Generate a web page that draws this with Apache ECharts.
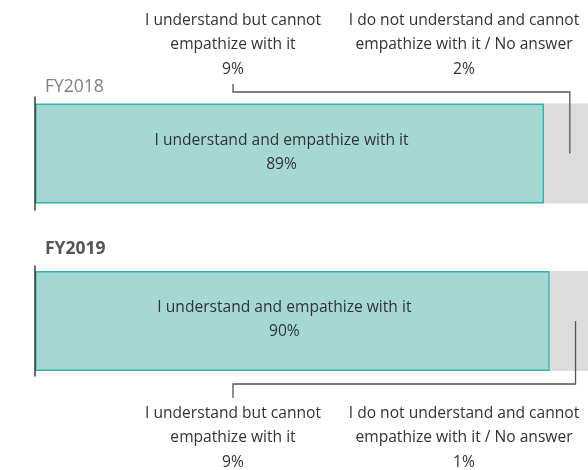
<!DOCTYPE html>
<html><head><meta charset="utf-8">
<script src="https://cdn.jsdelivr.net/npm/echarts@6/dist/echarts.min.js"></script>
<style>html,body{margin:0;padding:0;background:#fff;overflow:hidden}#c{width:607px;height:470px}</style>
</head><body><div id="c"></div>
<script>
const years = ['FY2018', 'FY2019'];
const empathize = [89, 90];
const cannotEmpathize = [9, 9];
const noAnswer = [2, 1];
const seriesNames = ['I understand and empathize with it', 'I understand but cannot\nempathize with it', 'I do not understand and cannot\nempathize with it / No answer'];

const FONT = '"Open Sans", sans-serif';
const chart = echarts.init(document.getElementById('c'));

const gridTops = [97, 266];
const gridHeights = [113, 110];
const grids = years.map((y, i) => ({left: 35, right: 0, top: gridTops[i], height: gridHeights[i]}));
const xAxes = years.map((y, i) => ({type: 'value', gridIndex: i, min: 0, max: 100, show: false}));
const yAxes = years.map((y, i) => ({type: 'category', gridIndex: i, data: [y], z: 10,
  axisLine: {show: true, lineStyle: {color: '#3a3a3a', width: 1.5}}, axisTick: {show: false}, axisLabel: {show: false}}));

const series = [];
const labelAnchor = [
  {x: 233, y: 84, turnY: 92},
  {x: 233, y: 398, turnY: 384}
];
years.forEach((y, i) => {
  series.push({
    type: 'bar', stack: 's' + i, xAxisIndex: i, yAxisIndex: i, barWidth: 100, name: seriesNames[0],
    data: [empathize[i]],
    itemStyle: {color: '#a5d8d3', borderColor: '#2bb5ab', borderWidth: 1.5},
    label: {show: true, position: 'inside', offset: [-8, -1], formatter: p => seriesNames[0] + '\n' + p.value + '%',
      color: '#333', fontSize: 15.6, lineHeight: 24, fontFamily: FONT}
  });
  series.push({
    type: 'bar', stack: 's' + i, xAxisIndex: i, yAxisIndex: i, barWidth: 100,
    data: [cannotEmpathize[i]], itemStyle: {color: '#dcdcdc'}
  });
  series.push({
    type: 'bar', stack: 's' + i, xAxisIndex: i, yAxisIndex: i, barWidth: 100,
    data: [noAnswer[i]], itemStyle: {color: '#dcdcdc'}
  });
  const a = labelAnchor[i];
  series.push({
    type: 'custom', xAxisIndex: i, yAxisIndex: i, clip: false, z: 20,
    data: [[empathize[i] + cannotEmpathize[i] / 2, 0]],
    renderItem: (params, api) => {
      const p = api.coord([api.value(0), api.value(1)]);
      return {type: 'polyline', shape: {points: [[a.x, a.y], [a.x, a.turnY], [p[0], a.turnY], [p[0], p[1]]]},
        style: {stroke: '#555', lineWidth: 1.3, fill: null}};
    }
  });
});

const txt = (x, y, text, opts) => Object.assign({type: 'text', x: x, y: y,
  style: Object.assign({text: text, fill: '#333', font: '15.6px ' + FONT, textAlign: 'center', textVerticalAlign: 'top', lineHeight: 24.5}, opts || {})});

const graphic = [
  txt(233, 8, seriesNames[1] + '\n' + cannotEmpathize[0] + '%'),
  txt(464, 8, seriesNames[2] + '\n' + noAnswer[0] + '%'),
  txt(233, 401, seriesNames[1] + '\n' + cannotEmpathize[1] + '%'),
  txt(464, 401, seriesNames[2] + '\n' + noAnswer[1] + '%'),
  txt(45, 75, years[0], {textAlign: 'left', fill: '#7f7f7f', font: '17.5px ' + FONT}),
  txt(45, 237, years[1], {textAlign: 'left', fill: '#555', font: 'bold 17.5px ' + FONT})
];

chart.setOption({animation: false, grid: grids, xAxis: xAxes, yAxis: yAxes, series: series, graphic: graphic});
</script></body></html>
